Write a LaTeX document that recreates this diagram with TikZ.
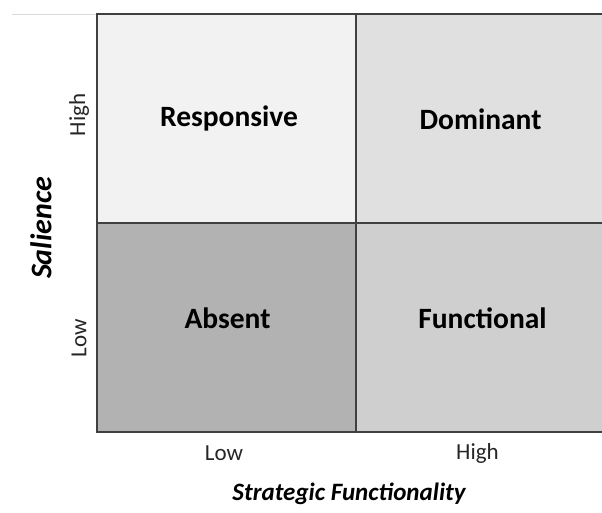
\documentclass[tikz,border=0pt]{standalone}
\usepackage{fontspec}
\setmainfont{Carlito}
\tikzset{
  cell/.style={draw=black!75, line width=1.2pt, minimum width=259pt, minimum height=209pt},
  quadname/.style={font=\fontsize{29.5}{34}\selectfont\bfseries},
  tick/.style={font=\fontsize{23}{27}\selectfont, text=black!85},
  axis/.style={font=\fontsize{25}{30}\selectfont\bfseries\itshape},
}
\begin{document}
\begin{tikzpicture}[x=1pt,y=1pt]
  \clip (0,0) rectangle (602,-512);
  \draw[black!15, line width=1pt] (12,-14) -- (97,-14);
  % the four quadrants
  \node[cell, fill=black!5] (R) at (226.5,-118.5) {};
  \node[cell, fill=black!12, right of=R, node distance=259pt] (D) {};
  \node[cell, fill=black!30, below of=R, node distance=209pt] (A) {};
  \node[cell, fill=black!19, right of=A, node distance=259pt] (F) {};
  \node[quadname] (Rt) at ([xshift=2.5pt]R.center) {Responsive};
  \node[quadname] (Dt) at ([xshift=-5pt,yshift=-1pt]D.center) {Dominant};
  \node[quadname] (At) at ([xshift=1pt,yshift=9pt]A.center) {Absent};
  \node[quadname] (Ft) at ([xshift=-3pt,yshift=9pt]F.center) {Functional};
  % tick labels
  \node[tick, rotate=90] (SH) at (79,-115) {High};
  \node[tick, rotate=90] (SL) at (79,-338) {Low};
  \node[tick] (FL) at (224,-453) {Low};
  \node[tick] (FH) at (477.5,-453) {High};
  % axis titles
  \node[axis, rotate=90, font=\fontsize{30}{34}\selectfont\bfseries\itshape] (S) at (41,-228) {Salience};
  \node[axis] (SF) at (349,-494) {Strategic Functionality};
\end{tikzpicture}
\end{document}
